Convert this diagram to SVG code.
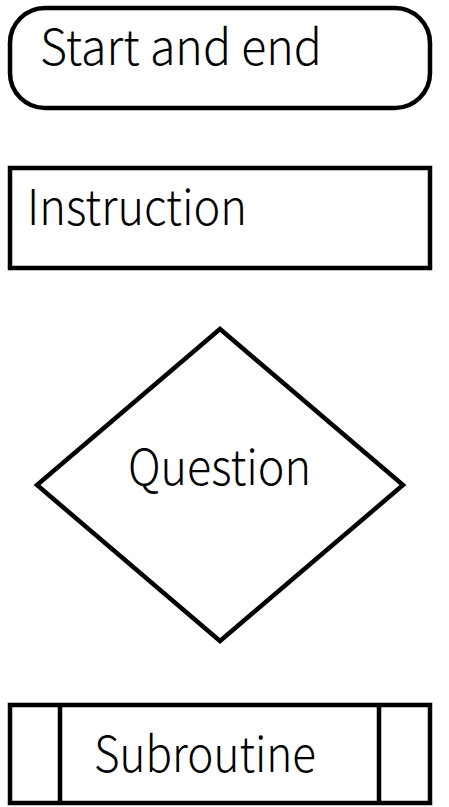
<svg xmlns="http://www.w3.org/2000/svg" width="449" height="807" viewBox="0 0 449 807">
<style>
.s{fill:#fff;stroke:#000;stroke-width:4.5}
.t{font-family:"Noto Sans CJK JP","Noto Sans",sans-serif;font-weight:300;font-size:49px;fill:#000}
</style>
<rect width="449" height="807" fill="#fff"/>
<g id="connectors"></g>
<g id="start-end">
<rect class="s" x="10" y="8" width="420" height="100" rx="35" ry="35"/>
<text class="t" x="40" y="65" textLength="282" lengthAdjust="spacingAndGlyphs">Start and end</text>
</g>
<g id="instruction">
<rect class="s" x="10" y="168" width="420" height="100"/>
<text class="t" x="27" y="225" textLength="220" lengthAdjust="spacingAndGlyphs">Instruction</text>
</g>
<g id="question">
<polygon class="s" points="220,329 403,485 220,641 37,485"/>
<text class="t" x="128" y="485" textLength="183" lengthAdjust="spacingAndGlyphs">Question</text>
</g>
<g id="subroutine">
<rect class="s" x="10" y="705" width="420" height="98"/>
<line class="s" x1="60" y1="705" x2="60" y2="803"/>
<line class="s" x1="379" y1="705" x2="379" y2="803"/>
<text class="t" x="94" y="772" textLength="222" lengthAdjust="spacingAndGlyphs">Subroutine</text>
</g>
</svg>
